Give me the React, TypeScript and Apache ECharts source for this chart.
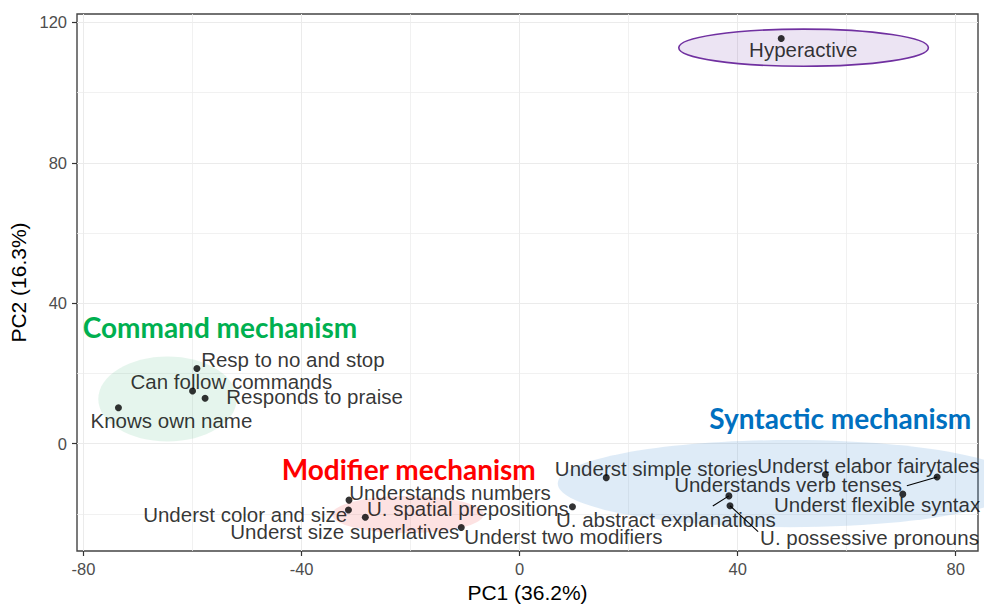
import React, { useEffect, useRef } from "react";
import * as echarts from "echarts";

// ---- data ----
const itemNames = [
  "Hyperactive",
  "Resp to no and stop",
  "Can follow commands",
  "Responds to praise",
  "Knows own name",
  "Understands numbers",
  "Underst color and size",
  "U. spatial prepositions",
  "Underst size superlatives",
  "Underst two modifiers",
  "Underst simple stories",
  "Underst elabor fairytales",
  "Understands verb tenses",
  "Underst flexible syntax",
  "U. abstract explanations",
  "U. possessive pronouns",
];
const pc1Values = [48.0, -59.2, -60.0, -57.7, -73.6, -31.3, -31.4, -28.3, -10.7, 9.7, 15.9, 56.1, 76.6, 70.3, 38.4, 38.6];
const pc2Values = [115.4, 21.4, 15.0, 12.9, 10.2, -16.1, -18.9, -21.0, -23.9, -18.0, -9.7, -8.8, -9.5, -14.4, -14.9, -17.7];

// label placement (pixel offset of label centre from its point), as repelled in the source
const labelOffsets: [number, number][] = [
  [22, 11], [96, -8.6], [38.8, -9.7], [109.5, -2], [53, 12.5],
  [101, -7.7], [-103.3, 4.7], [102.5, -9.3], [-116.5, 4], [-9, 29.6],
  [50, -8.7], [43, -8.6], [-149, 7.4], [-25.7, 10.7], [-63, 24], [139.5, 31.3],
];

// group ellipses (data units)
const ellipseGroups = ["Hyperactive", "Command", "Modifier", "Syntactic"];
const ellipseCx = [52.1, -64.6, -20.5, 49.6];
const ellipseCy = [112.8, 12.7, -20.2, -11.4];
const ellipseRx = [22.9, 12.7, 13.9, 42.6];
const ellipseRy = [5.3, 12.1, 5.3, 12.4];
const ellipseFills = ["rgba(112,48,160,0.13)", "rgba(0,160,80,0.10)", "rgba(240,60,60,0.15)", "rgba(91,155,213,0.20)"];
const ellipseStrokes = ["#7030A0", null, null, null];

// repel segments: item index -> label end (data units)
const segmentItemIndex = [12, 14, 15];
const segmentEndX = [71.05, 35.45, 43.76];
const segmentEndY = [-12.0, -17.8, -25.1];

// group titles
const groupTitles = ["Command mechanism", "Modifier mechanism", "Syntactic mechanism"];
const groupTitleColors = ["#00B050", "#FF0000", "#0070C0"];
const groupTitlePos: [number, number][] = [[82.7, 327], [281.7, 468.5], [709.3, 418]];

// axes
const xRange = [-81.2, 84.1];
const yRange = [-30.6, 122.4];
const tickStep = 40;
const xTickValues = [-80, -40, 0, 40, 80];
const yTickValues = [0, 40, 80, 120];
const xTitle = "PC1 (36.2%)";
const yTitle = "PC2 (16.3%)";

const FONT = "'Liberation Sans', Arial, sans-serif";

export default function App() {
  const ref = useRef<HTMLDivElement>(null);
  useEffect(() => {
    if (!ref.current) return;
    const chart = echarts.init(ref.current, null, { renderer: "svg" });

    const scatterData = itemNames.map((n, i) => ({
      name: n,
      value: [pc1Values[i], pc2Values[i]],
      label: { offset: labelOffsets[i] },
    }));
    const ellipseData = ellipseGroups.map((g, i) => ({
      name: g,
      value: [ellipseCx[i], ellipseCy[i], ellipseRx[i], ellipseRy[i]],
    }));
    const segmentData = segmentItemIndex.map((idx, i) => [
      pc1Values[idx], pc2Values[idx], segmentEndX[i], segmentEndY[i],
    ]);

    const gridLine = { color: "#ebebeb", width: 1 };
    const axisCommon = {
      type: "value" as const,
      minInterval: tickStep,
      maxInterval: tickStep,
      axisLine: { show: false, onZero: false },
      axisTick: { show: true, length: 5, lineStyle: { color: "#333333", width: 1.2 } },
      splitLine: { show: true, lineStyle: gridLine },
      minorTick: { show: false, splitNumber: 2 },
      minorSplitLine: { show: true, lineStyle: { color: "#ededed", width: 0.8 } },
      nameLocation: "middle" as const,
      nameTextStyle: { fontFamily: FONT, fontSize: 21, color: "#000" },
    };

    chart.setOption({
      animation: false,
      backgroundColor: "#ffffff",
      grid: {
        left: 77, right: 6, top: 14, bottom: 53,
        outerBoundsMode: "none",
        containLabel: false,
        show: true, borderColor: "#444444", borderWidth: 1.4, backgroundColor: "transparent",
      },
      xAxis: {
        ...axisCommon,
        min: xRange[0], max: xRange[1],
        name: xTitle, nameGap: 30,
        axisTick: { ...axisCommon.axisTick, customValues: xTickValues },
        axisLabel: { customValues: xTickValues, fontFamily: FONT, fontSize: 16.5, color: "#4d4d4d", margin: 9.5 },
      },
      yAxis: {
        ...axisCommon,
        min: yRange[0], max: yRange[1],
        name: yTitle, nameGap: 33,
        axisTick: { ...axisCommon.axisTick, customValues: yTickValues },
        axisLabel: { customValues: yTickValues, fontFamily: FONT, fontSize: 16.5, color: "#4d4d4d", margin: 10 },
      },
      graphic: groupTitles.map((t, i) => ({
        type: "text",
        x: groupTitlePos[i][0],
        y: groupTitlePos[i][1],
        z: 100,
        style: {
          text: t,
          font: "bold 28px Lato, 'Noto Sans', sans-serif",
          fill: groupTitleColors[i],
          align: "left",
          verticalAlign: "middle",
        },
      })),
      series: [
        {
          type: "custom",
          name: "ellipses",
          z: 1,
          clip: false,
          silent: true,
          data: ellipseData,
          renderItem: (params: any, api: any) => {
            const c = api.coord([api.value(0), api.value(1)]);
            const s = api.size([api.value(2), api.value(3)]);
            const i = params.dataIndex;
            return {
              type: "ellipse",
              shape: { cx: c[0], cy: c[1], rx: Math.abs(s[0]), ry: Math.abs(s[1]) },
              style: {
                fill: ellipseFills[i],
                stroke: ellipseStrokes[i] || "none",
                lineWidth: ellipseStrokes[i] ? 1.6 : 0,
              },
            };
          },
        },
        {
          type: "custom",
          name: "segments",
          z: 3,
          silent: true,
          data: segmentData,
          renderItem: (_params: any, api: any) => {
            const p1 = api.coord([api.value(0), api.value(1)]);
            const p2 = api.coord([api.value(2), api.value(3)]);
            return {
              type: "line",
              shape: { x1: p1[0], y1: p1[1], x2: p2[0], y2: p2[1] },
              style: { stroke: "#000", lineWidth: 1.1 },
            };
          },
        },
        {
          type: "scatter",
          name: "items",
          z: 4,
          symbol: "circle",
          symbolSize: 7,
          itemStyle: { color: "#000" },
          data: scatterData,
          label: {
            show: true,
            position: "inside",
            formatter: "{b}",
            fontFamily: FONT,
            fontSize: 20.5,
            color: "#000",
            align: "center",
            verticalAlign: "middle",
          },
        },
      ],
    });
    return () => chart.dispose();
  }, []);

  return (
    <div
      ref={ref}
      style={{ position: "absolute", left: 0, top: 0, width: 984, height: 604, background: "#fff" }}
    />
  );
}
